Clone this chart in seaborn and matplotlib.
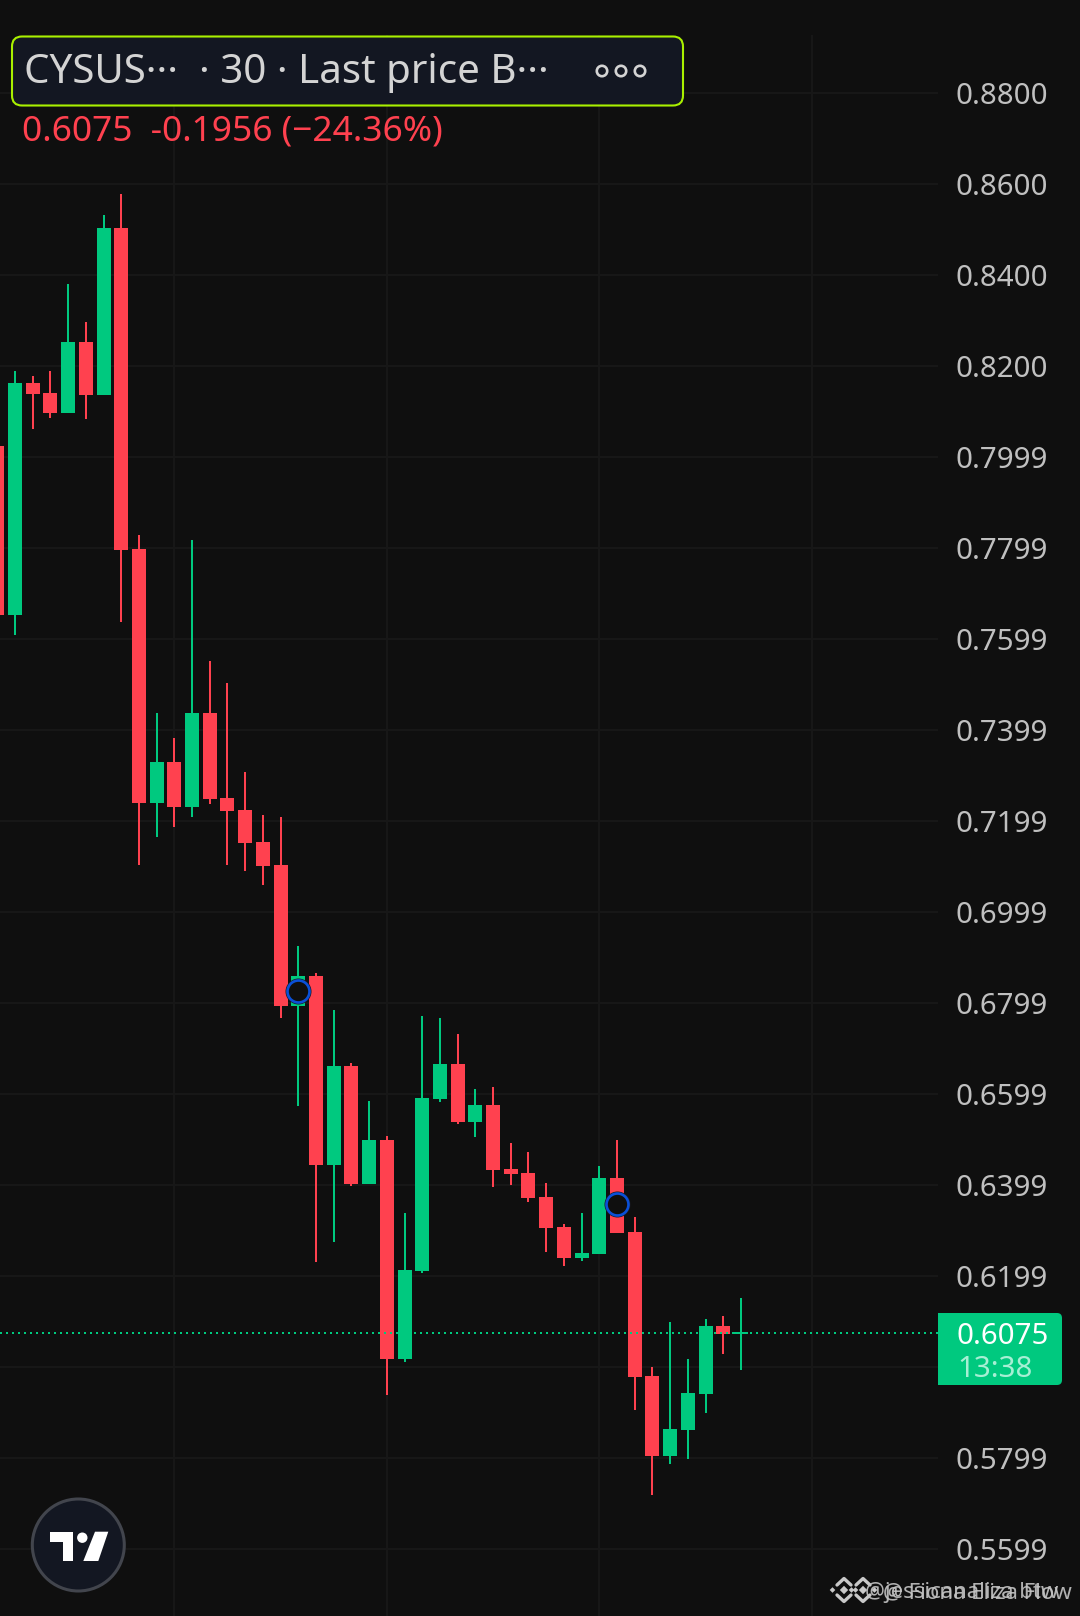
import numpy as np
import pandas as pd
import matplotlib
matplotlib.use("Agg")
import matplotlib.pyplot as plt
from matplotlib.patches import FancyBboxPatch, Rectangle, Polygon, Circle
from matplotlib.lines import Line2D
import seaborn as sns

# ---------------- data (prices) ----------------
opens = [.80235,.76521,.81619,.81400,.80960,.82521,.81356,.85026,.77971,.72389,.73290,
         .72301,.74367,.72499,.72235,.71532,.71026,.67927,.68586,.64433,.66608,.64015,
         .64982,.60169,.62103,.65883,.66652,.65378,.65751,.64345,.64257,.63729,.63070,
         .62389,.62477,.64147,.62960,.59795,.58037,.58608,.59400,.60894,.60718]
highs = [.80600,.81883,.81773,.81883,.83795,.82960,.85312,.85773,.78279,.74367,.73817,
         .78169,.75510,.75026,.73070,.72125,.72081,.69246,.68652,.67839,.66674,.65839,
         .65070,.63378,.67707,.67663,.67312,.66103,.66147,.64916,.64718,.64037,.63136,
         .63378,.64411,.64982,.63290,.59993,.60982,.60169,.61048,.61114,.61510]
lows  = [.76000,.76081,.80608,.80850,.80960,.80828,.81356,.76367,.71026,.71641,.71861,
         .72081,.72367,.71026,.70894,.70586,.67663,.65729,.62301,.62740,.63971,.64015,
         .59378,.60103,.62059,.65817,.65334,.65048,.63949,.63993,.63619,.62521,.62213,
         .62323,.62477,.62938,.59048,.57180,.57861,.57971,.58982,.60279,.59927]
closes= [.76521,.81619,.81378,.80960,.82521,.81356,.85026,.77949,.72389,.73290,.72301,
         .74367,.72477,.72213,.71510,.71004,.67927,.68586,.64433,.66608,.64015,.64982,
         .60169,.62125,.65905,.66652,.65378,.65751,.64323,.64235,.63707,.63048,.62389,
         .62499,.64147,.62938,.59773,.58037,.58630,.59422,.60894,.60718,.60762]
price_ticks = [.88,.86,.84,.82,.80,.78,.76,.74,.72,.70,.68,.66,.64,.62,.58,.56]
tick_labels = ["0.8800","0.8600","0.8400","0.8200","0.7999","0.7799","0.7599","0.7399",
               "0.7199","0.6999","0.6799","0.6599","0.6399","0.6199","0.5799","0.5599"]
extra_grid = [.60]
grid_bars = [10, 22, 34, 46]
marker_bars = [17, 35]
marker_prices = [.68262, .63577]
last_price = 0.6075

BG = "#0f0f0f"; GRID = "#181818"; GREEN = "#00c97f"; RED = "#ff414f"

sns.set_theme(style="dark", rc={"axes.facecolor": BG, "figure.facecolor": BG,
                                "axes.edgecolor": BG, "axes.linewidth": 0})
plt.rcParams["font.family"] = ["Noto Sans", "DejaVu Sans"]

W, H = 1080, 1616
fig = plt.figure(figsize=(W/100, H/100), dpi=100, facecolor=BG)
ax = fig.add_axes([0, 0, 938/W, 1])

df = pd.DataFrame({"bar": np.arange(len(opens)), "o": opens, "h": highs, "l": lows, "c": closes})
df["up"] = df.c >= df.o
df["top"] = df[["o", "c"]].max(axis=1)
df["bot"] = df[["o", "c"]].min(axis=1)
df["wick"] = df.h - df.l
df["body"] = df.top - df.bot

for up, col in [(True, GREEN), (False, RED)]:
    sub = df[df.up == up]
    sns.barplot(data=sub, x="bar", y="wick", bottom=sub.l.values, native_scale=True, width=0.115,
                color=col, saturation=1, errorbar=None, linewidth=0, ax=ax, zorder=3)
    sns.barplot(data=sub, x="bar", y="body", bottom=sub.bot.values, native_scale=True, width=0.79,
                color=col, saturation=1, errorbar=None, linewidth=0, ax=ax, zorder=4)

ax.set_xlim(0.1525, 53.13)
ax.set_ylim(0.54521, 0.90037)
ax.set_xticks([])
ax.yaxis.tick_right()
ax.set_yticks(price_ticks)
ax.set_yticklabels(tick_labels)
ax.tick_params(axis="y", length=0, pad=12.6, labelsize=21.2, labelcolor="#c0c0c0", right=False)
for lab in ax.get_yticklabels():
    lab.set_fontweight("light")
ax.set_axisbelow(True)
ax.yaxis.grid(True, color=GRID, lw=1.4)
ax.xaxis.grid(False)
ax.hlines(extra_grid, 0, 60, color=GRID, lw=1.4, zorder=1)
ax.vlines(grid_bars, 0.54, 0.89268, color=GRID, lw=1.4, zorder=1)
for s in ax.spines.values():
    s.set_visible(False)

# last price dotted line
ax.axhline(last_price, color=GREEN, lw=1.44, ls=(0, (1, 2)), dash_capstyle="butt", zorder=5)

# event markers
mk = pd.DataFrame({"bar": marker_bars, "p": marker_prices})
sns.scatterplot(data=mk, x="bar", y="p", s=350, color="#1a1a22", linewidth=0, ax=ax, zorder=6, legend=False)
sns.scatterplot(data=mk, x="bar", y="p", s=250, color=BG, edgecolor="#0a50d8", linewidth=1.9, ax=ax, zorder=7, legend=False)
ax.set_xlabel(""); ax.set_ylabel("")

# ---------------- overlay in pixel space ----------------
ov = fig.add_axes([0, 0, 1, 1], facecolor="none", zorder=10)
ov.set_xlim(0, W); ov.set_ylim(H, 0); ov.axis("off")

# title box
ov.add_patch(FancyBboxPatch((12, 36.5), 671, 69, boxstyle="round,pad=0,rounding_size=10",
                            fc="#131722", ec="#a9f000", lw=1.5))
ov.text(24, 83, "CYSUS···  · 30 · Last price B···", color="#d4d4d4", fontsize=29, va="baseline", fontweight="light")
for cx in (602, 621, 640):
    ov.add_patch(Circle((cx, 71), 5.2, fc="none", ec="#d4d4d4", lw=1.9))
ov.text(22.5, 140, "0.6075  -0.1956 (−24.36%)", color=RED, fontsize=25.4, va="baseline", fontweight="light")

# price tag
ov.add_patch(FancyBboxPatch((938, 1313), 124, 72, boxstyle="round,pad=0,rounding_size=5", fc=GREEN, ec="none"))
ov.add_patch(Rectangle((938, 1313), 20, 72, fc=GREEN, ec="none"))
ov.text(957, 1344, "0.6075", color="#ffffff", fontsize=21.2, va="baseline", fontweight="light")
ov.text(957, 1377, "13:38", color="#a6efd4", fontsize=21.2, va="baseline", fontweight="light")

# TradingView badge
ov.add_patch(Circle((78.3, 1545), 46, fc="#131722", ec="#42454d", lw=2.2))
ov.add_patch(Polygon([(50, 1531.7), (73.3, 1531.7), (73.3, 1561), (63.3, 1561), (63.3, 1541.7), (50, 1541.7)],
                     closed=True, fc="white", ec="none"))
ov.add_patch(Circle((82.3, 1537.7), 5.2, fc="white", ec="none"))
ov.add_patch(Polygon([(95, 1531.7), (108.3, 1531.7), (98.3, 1561), (83.3, 1561)], closed=True, fc="white", ec="none"))

# watermark
LOGO = "#c9c9c9"
for cx in (844, 863):
    cy = 1590
    for sgn in (-1, 1):
        ov.add_line(Line2D([cx-7, cx, cx+7], [cy+sgn*5, cy+sgn*11.5, cy+sgn*5], color=LOGO, lw=2.4))
    for dx, r in ((0, 4.2), (-11.5, 2.8), (11.5, 2.8)):
        ov.add_patch(Polygon([(cx+dx-r, cy), (cx+dx, cy-r), (cx+dx+r, cy), (cx+dx, cy+r)], closed=True, fc=LOGO, ec="none"))
ov.text(865, 1598, "@jessicanaliza btw", color="#c4c4c4", fontsize=16, va="baseline", alpha=.9, fontweight="light")
ov.text(883, 1598, "@ Fiona Eliza Flow", color="#c4c4c4", fontsize=16, va="baseline", alpha=.9, fontweight="light")

fig.savefig("out.png", dpi=100, facecolor=BG)
